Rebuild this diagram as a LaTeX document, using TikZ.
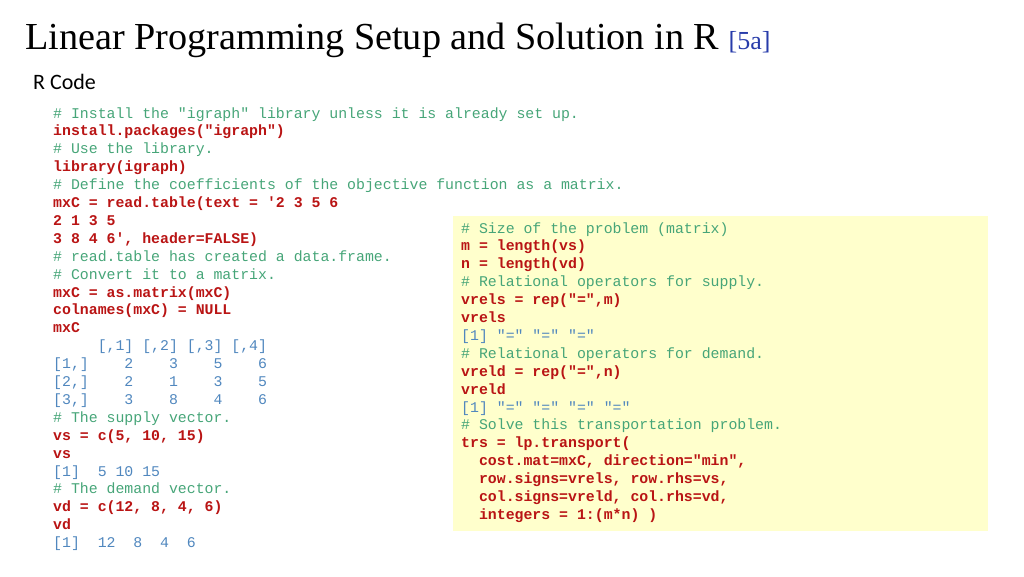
\documentclass[tikz,border=0pt]{standalone}
\usepackage{fontspec}
\setmainfont{Liberation Serif}
\setmonofont{Liberation Mono}
\newfontfamily\calib{Carlito}
\definecolor{cmt}{RGB}{70,165,120}
\definecolor{cod}{RGB}{185,20,20}
\definecolor{outc}{RGB}{80,135,190}
\definecolor{boxy}{RGB}{255,255,204}
\definecolor{refb}{RGB}{40,60,170}
\begin{document}
\begin{tikzpicture}[x=1pt,y=-1pt,
  ln/.style={anchor=base west,inner sep=0pt,font=\fontsize{14.85}{16}\ttfamily},
  c/.style={ln,text=cmt},
  r/.style={ln,text=cod,font=\fontsize{14.85}{16}\ttfamily\bfseries},
  o/.style={ln,text=outc}]
\useasboundingbox (0,0) rectangle (1024,576);
\fill[boxy] (453,216) rectangle (988,531);
\node[anchor=base west,inner sep=0pt] (title) at (25,49) {\fontsize{38.2}{42}\selectfont Linear Programming Setup and Solution in R \textcolor{refb}{\fontsize{26}{30}\selectfont[5a]}};
\node[anchor=base west,inner sep=0pt] (sub) at (33,89) {\calib\fontsize{22}{26}\selectfont R Code};
\def\s{17.9}
\def\L{53}
\node[c] (l1) at (\L,118+0*\s) {\# Install the "igraph" library unless it is already set up.};
\node[r] (l2) at (\L,118+1*\s) {install.packages("igraph")};
\node[c] (l3) at (\L,118+2*\s) {\# Use the library.};
\node[r] (l4) at (\L,118+3*\s) {library(igraph)};
\node[c] (l5) at (\L,118+4*\s) {\# Define the coefficients of the objective function as a matrix.};
\node[r] (l6) at (\L,118+5*\s) {mxC = read.table(text = '2 3 5 6};
\node[r] (l7) at (\L,118+6*\s) {2 1 3 5};
\node[r] (l8) at (\L,118+7*\s) {3 8 4 6', header=FALSE)};
\node[c] (l9) at (\L,118+8*\s) {\# read.table has created a data.frame.};
\node[c] (l10) at (\L,118+9*\s) {\# Convert it to a matrix.};
\node[r] (l11) at (\L,118+10*\s) {mxC = as.matrix(mxC)};
\node[r] (l12) at (\L,118+11*\s) {colnames(mxC) = NULL};
\node[r] (l13) at (\L,118+12*\s) {mxC};
\node[o] (l14) at (\L,118+13*\s) {~~~~~[,1]~[,2]~[,3]~[,4]};
\node[o] (l15) at (\L,118+14*\s) {[1,]~~~~2~~~~3~~~~5~~~~6};
\node[o] (l16) at (\L,118+15*\s) {[2,]~~~~2~~~~1~~~~3~~~~5};
\node[o] (l17) at (\L,118+16*\s) {[3,]~~~~3~~~~8~~~~4~~~~6};
\node[c] (l18) at (\L,118+17*\s) {\# The supply vector.};
\node[r] (l19) at (\L,118+18*\s) {vs = c(5, 10, 15)};
\node[r] (l20) at (\L,118+19*\s) {vs};
\node[o] (l21) at (\L,118+20*\s) {[1]~~5~10~15};
\node[c] (l22) at (\L,118+21*\s) {\# The demand vector.};
\node[r] (l23) at (\L,118+22*\s) {vd = c(12, 8, 4, 6)};
\node[r] (l24) at (\L,118+23*\s) {vd};
\node[o] (l25) at (\L,118+24*\s) {[1]~~12~~8~~4~~6};
\def\R{461}
\node[c] (r1) at (\R,233+0*\s) {\# Size of the problem (matrix)};
\node[r] (r2) at (\R,233+1*\s) {m = length(vs)};
\node[r] (r3) at (\R,233+2*\s) {n = length(vd)};
\node[c] (r4) at (\R,233+3*\s) {\# Relational operators for supply.};
\node[r] (r5) at (\R,233+4*\s) {vrels = rep("=",m)};
\node[r] (r6) at (\R,233+5*\s) {vrels};
\node[o] (r7) at (\R,233+6*\s) {[1] "=" "=" "="};
\node[c] (r8) at (\R,233+7*\s) {\# Relational operators for demand.};
\node[r] (r9) at (\R,233+8*\s) {vreld = rep("=",n)};
\node[r] (r10) at (\R,233+9*\s) {vreld};
\node[o] (r11) at (\R,233+10*\s) {[1] "=" "=" "=" "="};
\node[c] (r12) at (\R,233+11*\s) {\# Solve this transportation problem.};
\node[r] (r13) at (\R,233+12*\s) {trs = lp.transport(};
\node[r] (r14) at (\R,233+13*\s) {~~cost.mat=mxC, direction="min",};
\node[r] (r15) at (\R,233+14*\s) {~~row.signs=vrels, row.rhs=vs,};
\node[r] (r16) at (\R,233+15*\s) {~~col.signs=vreld, col.rhs=vd,};
\node[r] (r17) at (\R,233+16*\s) {~~integers = 1:(m*n) )};
\end{tikzpicture}
\end{document}
